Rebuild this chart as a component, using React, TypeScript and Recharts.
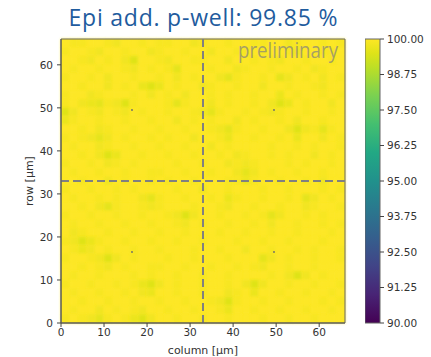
import React from 'react';
import {
  ScatterChart,
  ComposedChart,
  Scatter,
  XAxis,
  YAxis,
  ReferenceArea,
  ReferenceLine,
  Label,
} from 'recharts';

// ---- data ----
const TITLE = 'Epi add. p-well: 99.85 %';
const WATERMARK = 'preliminary';
const X_LABEL = 'column [µm]';
const Y_LABEL = 'row [µm]';
const AXIS_TICKS = [0, 10, 20, 30, 40, 50, 60];
const AXIS_MAX = 66;
const CELL_PITCH = 2; // µm per map cell
const CROSS_AT = 33;
const COLORBAR_TICKS = [90, 91.25, 92.5, 93.75, 95, 96.25, 97.5, 98.75, 100];
const COLOR_MIN = 90;
const COLOR_MAX = 100;
// quadrant-centre markers
const MARKERS = [
  { x: 16.5, y: 16.5 },
  { x: 49.5, y: 16.5 },
  { x: 16.5, y: 49.5 },
  { x: 49.5, y: 49.5 },
];
// Map rows from top (row 0 = y 64..66 µm); each digit = deficit below 100 % in steps of 0.1 %
const DEFICIT_STEP = 0.1;
const MAP_ROWS = [
  '01100120010' + '11002100100' + '11002100101',
  '10012001002' + '10010020011' + '01001200110',
  '00120102500' + '12001100200' + '10120010010',
  '01001001201' + '01400010021' + '00100102100',
  '10010200100' + '10201002410' + '01042010201',
  '00100201035' + '30100210010' + '02001001200',
  '10021000102' + '01020010100' + '10030100101',
  '10234125100' + '01410020100' + '10253010020',
  '52012012010' + '01001241001' + '01210010010',
  '31001001001' + '00201010020' + '10010200100',
  '00102100100' + '10010012410' + '01002521410',
  '10124201001' + '01002001300' + '10010300201',
  '01002100100' + '10010020100' + '00100101001',
  '00102530010' + '01001001021' + '00101002010',
  '10010210100' + '00100100212' + '10001010010',
  '01001001001' + '10010010024' + '20100100100',
  '00100201001' + '01001000113' + '10010010200',
  '10010010100' + '00100200100' + '01001000101',
  '01001010024' + '10010010310' + '01001042010',
  '00102410012' + '10001001200' + '10010021001',
  '10010010010' + '01252001001' + '01420010100',
  '01001001001' + '00120100100' + '10200100101',
  '02100100100' + '10010001001' + '00100100010',
  '12531001001' + '00100100010' + '01001000100',
  '01320100100' + '10001001002' + '00100101001',
  '10012520100' + '01001000100' + '04201001001',
  '00101201001' + '10010010010' + '12001001000',
  '01001000101' + '00100100100' + '00102520100',
  '10010010135' + '20100100102' + '52001001001',
  '01001001023' + '00100100210' + '30010010010',
  '00100100100' + '10010012510' + '01001000101',
  '01002010120' + '01001001300' + '10010010010',
  '10124101352' + '00100100100' + '01001001000',
];

// ---- viridis colormap ----
const VIRIDIS: [number, string][] = [
  [0.0, '#440154'],
  [0.1, '#482475'],
  [0.2, '#414487'],
  [0.3, '#355f8d'],
  [0.4, '#2a788e'],
  [0.5, '#21918c'],
  [0.6, '#22a884'],
  [0.7, '#44bf70'],
  [0.8, '#7ad151'],
  [0.9, '#bddf26'],
  [0.95, '#dfe318'],
  [1.0, '#fde725'],
];

function hexToRgb(h: string) {
  return [parseInt(h.slice(1, 3), 16), parseInt(h.slice(3, 5), 16), parseInt(h.slice(5, 7), 16)];
}

function viridis(t: number) {
  const tt = Math.max(0, Math.min(1, t));
  for (let i = 1; i < VIRIDIS.length; i++) {
    const [t1, c1] = VIRIDIS[i];
    const [t0, c0] = VIRIDIS[i - 1];
    if (tt <= t1) {
      const f = (tt - t0) / (t1 - t0);
      const a = hexToRgb(c0);
      const b = hexToRgb(c1);
      const rgb = a.map((v, k) => Math.round(v + (b[k] - v) * f));
      return `rgb(${rgb[0]},${rgb[1]},${rgb[2]})`;
    }
  }
  return VIRIDIS[VIRIDIS.length - 1][1];
}

const cells = MAP_ROWS.flatMap((row, r) =>
  row.split('').map((ch, c) => {
    const value = 100 - Number(ch) * DEFICIT_STEP;
    return {
      x1: c * CELL_PITCH,
      x2: (c + 1) * CELL_PITCH,
      y1: AXIS_MAX - (r + 1) * CELL_PITCH,
      y2: AXIS_MAX - r * CELL_PITCH,
      value,
      color: viridis((value - COLOR_MIN) / (COLOR_MAX - COLOR_MIN)),
    };
  })
);

const tickFont = { fontFamily: 'DejaVu Sans', fontSize: 10.5, fill: '#333' };

export default function App() {
  const gradStops = [...VIRIDIS].reverse();
  return (
    <div style={{ position: 'absolute', left: 0, top: 0, width: 431, height: 357, background: '#fff' }}>
      <svg width={0} height={0} style={{ position: 'absolute' }}>
        <defs>
          <linearGradient id="viridisGrad" x1="0" y1="0" x2="0" y2="1">
            {gradStops.map(([t, c]) => (
              <stop key={t} offset={`${(1 - t) * 100}%`} stopColor={c} />
            ))}
          </linearGradient>
          <filter id="soft" x="-50%" y="-50%" width="200%" height="200%">
            <feGaussianBlur stdDeviation="1.8" />
          </filter>
        </defs>
      </svg>
      <div style={{ position: 'absolute', left: 0, top: 0 }}>
        <ScatterChart width={431} height={357} margin={{ top: 39, right: 86, bottom: 0, left: 0 }}>
          <XAxis
            type="number"
            dataKey="x"
            domain={[0, AXIS_MAX]}
            ticks={AXIS_TICKS}
            allowDataOverflow
            height={34}
            tickSize={4}
            tickMargin={2}
            tick={tickFont}
            stroke="#555"
            tickLine={{ stroke: '#444' }}
          >
            <Label value={X_LABEL} position="insideBottom" offset={3} style={{ ...tickFont, fontSize: 11 }} />
          </XAxis>
          <YAxis
            type="number"
            dataKey="y"
            domain={[0, AXIS_MAX]}
            ticks={AXIS_TICKS}
            allowDataOverflow
            width={61}
            tickSize={4}
            tickMargin={4}
            tick={tickFont}
            stroke="#555"
            tickLine={{ stroke: '#444' }}
          >
            <Label value={Y_LABEL} position="center" angle={-90} dx={-1} style={{ ...tickFont, fontSize: 11, textAnchor: 'middle' }} />
          </YAxis>
          <ReferenceArea
            x1={0}
            x2={AXIS_MAX}
            y1={0}
            y2={AXIS_MAX}
            fill={viridis(1)}
            fillOpacity={1}
            stroke="none"
          />
          {cells.map((cell, i) => (
            <ReferenceArea
              key={i}
              x1={cell.x1}
              x2={cell.x2}
              y1={cell.y1}
              y2={cell.y2}
              ifOverflow="hidden"
              shape={(p: any) => (
                <rect
                  x={p.x}
                  y={p.y}
                  width={p.width}
                  height={p.height}
                  fill={cell.color}
                  filter="url(#soft)"
                />
              )}
            />
          ))}
          <ReferenceLine x={CROSS_AT} stroke="#808080" strokeWidth={2} strokeDasharray="8 4" />
          <ReferenceLine y={CROSS_AT} stroke="#808080" strokeWidth={2} strokeDasharray="8 4" />
          <ReferenceArea x1={0} x2={AXIS_MAX} y1={0} y2={AXIS_MAX} fill="none" stroke="#666" strokeWidth={1} />
          <Scatter
            data={MARKERS}
            isAnimationActive={false}
            shape={(p: any) => <circle cx={p.cx} cy={p.cy} r={0.9} fill="#6a6a6a" />}
          />
        </ScatterChart>
      </div>
      <div style={{ position: 'absolute', left: 365, top: 0 }}>
        <ComposedChart
          width={66}
          height={357}
          data={[{ x: 0 }, { x: 1 }]}
          margin={{ top: 39, right: 0, bottom: 34, left: 0 }}
        >
          <XAxis type="number" dataKey="x" domain={[0, 1]} hide />
          <YAxis
            type="number"
            orientation="right"
            domain={[COLOR_MIN, COLOR_MAX]}
            ticks={COLORBAR_TICKS}
            allowDataOverflow
            width={51}
            tickSize={4}
            tickMargin={3}
            tick={tickFont}
            axisLine={false}
            tickLine={{ stroke: '#444' }}
            tickFormatter={(v: number) => v.toFixed(2)}
          />
          <ReferenceArea
            x1={0}
            x2={1}
            y1={COLOR_MIN}
            y2={COLOR_MAX}
            fill="url(#viridisGrad)"
            fillOpacity={1}
            stroke="#666"
            strokeWidth={1}
          />
        </ComposedChart>
      </div>
      <svg width={431} height={357} style={{ position: 'absolute', left: 0, top: 0, pointerEvents: 'none' }}>
        <text
          x={203}
          y={26}
          textAnchor="middle"
          fontFamily="Open Sans"
          fontSize={23}
          fill="#1f5c9e"
          textLength={269}
          lengthAdjust="spacing"
        >
          {TITLE}
        </text>
        <text
          x={338}
          y={58}
          textAnchor="end"
          fontFamily="Open Sans"
          fontSize={22}
          fill="#808080"
          fillOpacity={0.7}
          textLength={100}
          lengthAdjust="spacingAndGlyphs"
        >
          {WATERMARK}
        </text>
      </svg>
    </div>
  );
}
